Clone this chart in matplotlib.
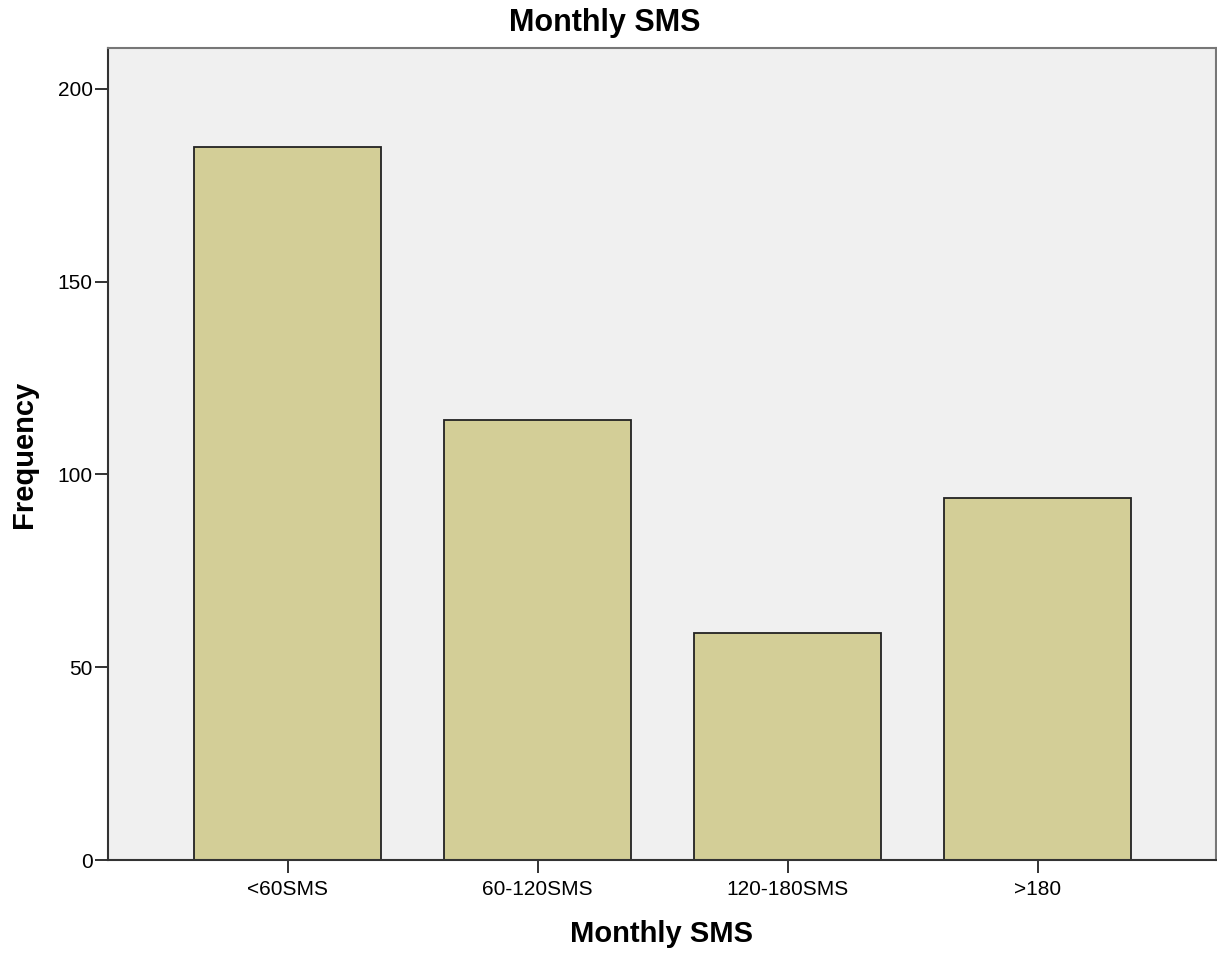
import matplotlib
matplotlib.use("Agg")
import matplotlib.pyplot as plt

plt.rcParams['font.family'] = ['Liberation Sans', 'DejaVu Sans']

categories = ['<60SMS', '60-120SMS', '120-180SMS', '>180']
frequency = [185, 114, 59, 94]

fig = plt.figure(figsize=(12.17, 9.56), dpi=100)
ax = fig.add_axes([108 / 1217, 1 - 860 / 956, (1216 - 108) / 1217, (860 - 48) / 956])
ax.set_facecolor('#f0f0f0')

x = range(len(categories))
ax.bar(x, frequency, width=0.75, color='#d3ce97', edgecolor='#222222', linewidth=1.3)

ax.set_xlim(-0.718, 3.714)
ax.set_ylim(0, 210.6)
ax.set_yticks([0, 50, 100, 150, 200])
ax.set_xticks(list(x))
ax.set_xticklabels(categories)
ax.tick_params(axis='both', labelsize=15, length=9.5, width=1.3, color='#222222', direction='out')
ax.tick_params(axis='y', pad=1.5)
ax.tick_params(axis='x', pad=5)

for s in ['left', 'bottom']:
    ax.spines[s].set_color('#333333')
    ax.spines[s].set_linewidth(1.5)
for s in ['top', 'right']:
    ax.spines[s].set_color('#777777')
    ax.spines[s].set_linewidth(1.5)

# titles placed like the SPSS output
fig.text(605 / 1217, 1 - 23 / 956, 'Monthly SMS', fontsize=22, fontweight='bold', ha='center', va='center')
fig.text(662 / 1217, 1 - 934 / 956, 'Monthly SMS', fontsize=21, fontweight='bold', ha='center', va='center')
fig.text(24 / 1217, 1 - 454 / 956, 'Frequency', fontsize=21, fontweight='bold', ha='center', va='center', rotation=90)

fig.savefig('out.png', dpi=100)
